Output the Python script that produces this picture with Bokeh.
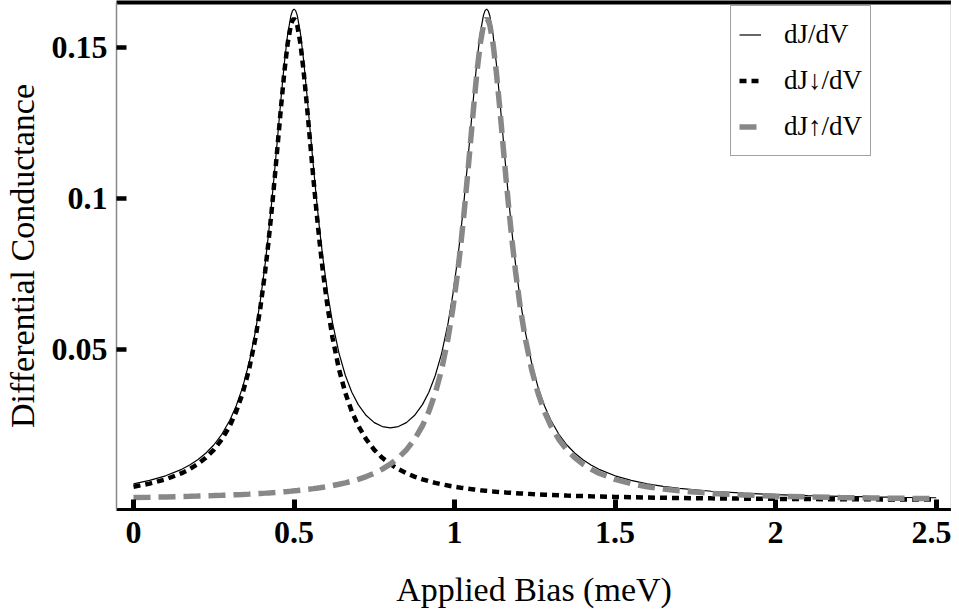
from bokeh.plotting import figure
from bokeh.models import Range1d, FixedTicker, LinearAxis, Legend, LegendItem, ColumnDataSource
from bokeh.embed import file_html
from bokeh.resources import INLINE

# ---- data ----
bias = [0.0, 0.05, 0.1, 0.15, 0.175, 0.2, 0.225, 0.25, 0.275, 0.3, 0.32, 0.34, 0.36, 0.38,
        0.395, 0.41, 0.42, 0.43, 0.44, 0.45, 0.46, 0.47, 0.48, 0.49, 0.495, 0.5, 0.505, 0.51,
        0.52, 0.53, 0.54, 0.55, 0.56, 0.57, 0.58, 0.59, 0.605, 0.62, 0.64, 0.66, 0.68, 0.7,
        0.725, 0.75, 0.775, 0.8,
        0.825, 0.85, 0.875, 0.9, 0.92, 0.94, 0.96, 0.98, 0.995, 1.01, 1.02, 1.03, 1.04, 1.05,
        1.06, 1.07, 1.08, 1.09, 1.095, 1.1, 1.105, 1.11, 1.12, 1.13, 1.14, 1.15, 1.16, 1.17,
        1.18, 1.19, 1.205, 1.22, 1.24, 1.26, 1.28, 1.3, 1.325, 1.35, 1.375, 1.4, 1.425, 1.45,
        1.5, 1.55, 1.6, 1.65, 1.7, 1.8, 1.9, 2.0, 2.1, 2.2, 2.3, 2.4, 2.5]

dj_down = [0.004549, 0.005579, 0.006996, 0.009016, 0.010363, 0.01203, 0.01411, 0.01676,
           0.02020, 0.02473, 0.02946, 0.03554, 0.04346, 0.05385, 0.06375, 0.07582, 0.08520,
           0.09565, 0.10701, 0.11897, 0.13095, 0.14207, 0.15125, 0.15735, 0.15896, 0.1595,
           0.15896, 0.15735, 0.15125, 0.14207, 0.13095, 0.11897, 0.10701, 0.09565, 0.08520,
           0.07582, 0.06375, 0.05385, 0.04346, 0.03554, 0.02946, 0.02473, 0.02020, 0.01676,
           0.01411, 0.01203,
           0.010363, 0.009016, 0.007912, 0.006996, 0.006372, 0.005826, 0.005347, 0.004924,
           0.004639, 0.004377, 0.004215, 0.004062, 0.003916, 0.003778, 0.003648, 0.003524,
           0.003406, 0.003294, 0.003240, 0.003187, 0.003136, 0.003085, 0.002988, 0.002896,
           0.002808, 0.002724, 0.002643, 0.002566, 0.002492, 0.002422, 0.002321, 0.002227,
           0.002110, 0.002001, 0.001901, 0.001808, 0.001702, 0.001604, 0.001515, 0.001432,
           0.001357, 0.001287, 0.001162, 0.001055, 0.000962, 0.000880, 0.000809, 0.000690,
           0.000595, 0.000519, 0.000456, 0.000404, 0.000361, 0.000324, 0.000292]

dj_up = [0.000962, 0.001055, 0.001162, 0.001287, 0.001357, 0.001432, 0.001515, 0.001604,
         0.001702, 0.001808, 0.001901, 0.002001, 0.002110, 0.002227, 0.002321, 0.002422,
         0.002492, 0.002566, 0.002643, 0.002724, 0.002808, 0.002896, 0.002988, 0.003085,
         0.003136, 0.003187, 0.003240, 0.003294, 0.003406, 0.003524, 0.003648, 0.003778,
         0.003916, 0.004062, 0.004215, 0.004377, 0.004639, 0.004924, 0.005347, 0.005826,
         0.006372, 0.006996, 0.007912, 0.009016, 0.010363, 0.01203,
         0.01411, 0.01676, 0.02020, 0.02473, 0.02946, 0.03554, 0.04346, 0.05385, 0.06375,
         0.07582, 0.08520, 0.09565, 0.10701, 0.11897, 0.13095, 0.14207, 0.15125, 0.15735,
         0.15896, 0.1595, 0.15896, 0.15735, 0.15125, 0.14207, 0.13095, 0.11897, 0.10701,
         0.09565, 0.08520, 0.07582, 0.06375, 0.05385, 0.04346, 0.03554, 0.02946, 0.02473,
         0.02020, 0.01676, 0.01411, 0.01203, 0.010363, 0.009016, 0.006996, 0.005579,
         0.004549, 0.003778, 0.003187, 0.002354, 0.001808, 0.001432, 0.001162, 0.000962,
         0.000809, 0.000690, 0.000595]

dj_total = [0.005511, 0.006634, 0.008158, 0.010303, 0.01172, 0.013462, 0.015625, 0.018364,
            0.021902, 0.026538, 0.031361, 0.037541, 0.04557, 0.056077, 0.066071, 0.078242,
            0.087692, 0.098216, 0.109653, 0.121694, 0.133758, 0.144966, 0.154238, 0.160435,
            0.162096, 0.162687, 0.1622, 0.160644, 0.154656, 0.145594, 0.134598, 0.122748,
            0.110926, 0.099712, 0.089415, 0.080197, 0.068389, 0.058774, 0.048807, 0.041366,
            0.035832, 0.031726, 0.028112, 0.025776, 0.024473, 0.02406,
            0.024473, 0.025776, 0.028112, 0.031726, 0.035832, 0.041366, 0.048807, 0.058774,
            0.068389, 0.080197, 0.089415, 0.099712, 0.110926, 0.122748, 0.134598, 0.145594,
            0.154656, 0.160644, 0.1622, 0.162687, 0.162096, 0.160435, 0.154238, 0.144966,
            0.133758, 0.121694, 0.109653, 0.098216, 0.087692, 0.078242, 0.066071, 0.056077,
            0.04557, 0.037541, 0.031361, 0.026538, 0.021902, 0.018364, 0.015625, 0.013462,
            0.01172, 0.010303, 0.008158, 0.006634, 0.005511, 0.004658, 0.003996, 0.003044,
            0.002403, 0.001951, 0.001618, 0.001366, 0.00117, 0.001014, 0.000887]

x_ticks = [0, 0.5, 1, 1.5, 2, 2.5]
x_tick_labels = ["0", "0.5", "1", "1.5", "2", "2.5"]
y_ticks = [0.05, 0.1, 0.15]
y_tick_labels = ["0.05", "0.1", "0.15"]

series_labels = ["dJ/dV", "dJ\u2193/dV", "dJ\u2191/dV"]
x_title = "Applied Bias (meV)"
y_title = "Differential Conductance"

SERIF = "Liberation Serif"
GREY = "#888888"

src = ColumnDataSource(data=dict(bias=bias, down=dj_down, up=dj_up, total=dj_total))

p = figure(frame_width=835, frame_height=507,
           x_range=Range1d(-0.053, 2.548), y_range=Range1d(-0.003, 0.1649),
           output_backend="svg", toolbar_location=None,
           min_border_left=108, min_border_top=2, min_border_right=0, min_border_bottom=0)
p.outline_line_color = None
p.xgrid.visible = False
p.ygrid.visible = False
p.background_fill_color = "white"
p.border_fill_color = "white"

r_total = p.line("bias", "total", source=src, line_color="black", line_width=1.2)
r_down = p.line("bias", "down", source=src, line_color="black", line_width=4.5, line_dash="7 5")
r_up = p.line("bias", "up", source=src, line_color=GREY, line_width=5.5, line_dash="17 8")

# bottom axis
xa = p.xaxis[0]
xa.ticker = FixedTicker(ticks=x_ticks)
xa.major_label_overrides = {t: l for t, l in zip(x_ticks, x_tick_labels)}
xa.minor_tick_line_color = None
xa.major_tick_in = 10
xa.major_tick_out = 0
xa.major_tick_line_width = 5
xa.major_tick_line_color = "black"
xa.axis_line_color = "black"
xa.axis_line_width = 3
xa.major_label_text_font = SERIF
xa.major_label_text_font_style = "bold"
xa.major_label_text_font_size = "32px"
xa.major_label_text_color = "black"
xa.major_label_standoff = 12
xa.axis_label = x_title
xa.axis_label_text_font = SERIF
xa.axis_label_text_font_style = "normal"
xa.axis_label_text_font_size = "34px"
xa.axis_label_text_color = "black"
xa.axis_label_standoff = 25

# left axis
ya = p.yaxis[0]
ya.ticker = FixedTicker(ticks=y_ticks)
ya.major_label_overrides = {t: l for t, l in zip(y_ticks, y_tick_labels)}
ya.minor_tick_line_color = None
ya.major_tick_in = 10
ya.major_tick_out = 0
ya.major_tick_line_width = 4.5
ya.major_tick_line_color = "black"
ya.axis_line_color = GREY
ya.axis_line_width = 1.5
ya.major_label_text_font = SERIF
ya.major_label_text_font_style = "bold"
ya.major_label_text_font_size = "32px"
ya.major_label_text_color = "black"
ya.major_label_standoff = 9
ya.axis_label = y_title
ya.axis_label_text_font = SERIF
ya.axis_label_text_font_style = "normal"
ya.axis_label_text_font_size = "34px"
ya.axis_label_text_color = "black"
ya.axis_label_standoff = 8

# top and right frame lines
top_ax = LinearAxis(ticker=FixedTicker(ticks=[]), axis_line_color="black", axis_line_width=4,
                    major_tick_line_color=None, minor_tick_line_color=None,
                    major_label_text_font_size="0px")
p.add_layout(top_ax, "above")
right_ax = LinearAxis(ticker=FixedTicker(ticks=[]), axis_line_color=GREY, axis_line_width=1.5,
                      major_tick_line_color=None, minor_tick_line_color=None,
                      major_label_text_font_size="0px")
p.add_layout(right_ax, "right")

legend = Legend(items=[LegendItem(label=series_labels[0], renderers=[r_total]),
                       LegendItem(label=series_labels[1], renderers=[r_down]),
                       LegendItem(label=series_labels[2], renderers=[r_up])],
                location=(614, 353), margin=0, padding=8, spacing=5,
                glyph_width=22, glyph_height=41, label_height=41, label_width=77,
                label_standoff=23,
                label_text_font=SERIF, label_text_font_size="27px", label_text_color="black",
                border_line_color="#444444", border_line_width=1,
                background_fill_color="white", background_fill_alpha=1.0)
p.add_layout(legend)

open("out.html", "w").write(file_html(p, INLINE))
